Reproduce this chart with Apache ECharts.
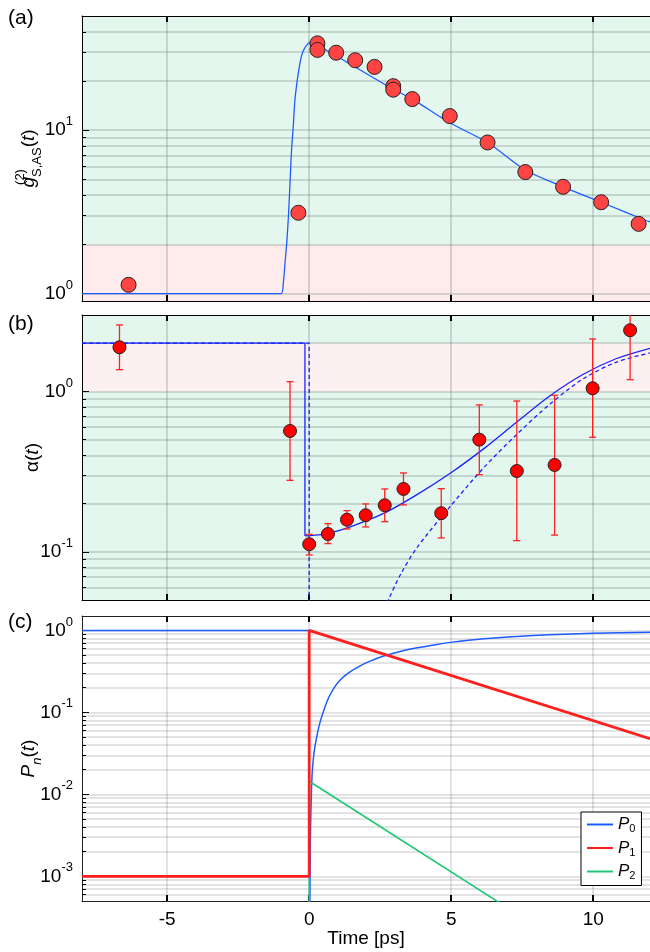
<!DOCTYPE html>
<html><head><meta charset="utf-8">
<script src="https://cdn.jsdelivr.net/npm/echarts@6/dist/echarts.min.js"></script>
<style>html,body{margin:0;padding:0;background:#fff}#c{width:650px;height:952px}</style>
</head><body><div id="c"></div>
<script>
// ---------- shared axis settings ----------
const xMin = -8, xMax = 12;
const xTicks = [-5, 0, 5, 10];

// ---------- panel (a): g2 ----------
const aRange = [0.9, 50];
const aMajor = [1, 10];
const aMinor = [2, 3, 4, 5, 6, 7, 8, 9, 20, 30, 40];
const aPtsX = [-6.36, -0.38, 0.29, 0.29, 0.95, 1.62, 2.30, 2.96, 2.96, 3.63, 4.95, 6.28, 7.61, 8.94, 10.28, 11.60];
const aPtsY = [1.13, 3.12, 34.0, 31.0, 29.8, 26.8, 24.4, 18.6, 17.7, 15.5, 12.2, 8.41, 5.54, 4.50, 3.62, 2.67];
const aFitX = [-8, -0.99, -0.91, -0.85, -0.79, -0.73, -0.675, -0.62, -0.56, -0.50, -0.38, -0.27, -0.15, 0.02, 0.2, 0.55, 0.96, 1.36, 2.96, 3.63, 4.95, 6.28, 7.61, 8.94, 10.28, 11.86, 12];
const aFitY = [1, 1, 1.17, 1.55, 2.05, 2.99, 4.78, 7.65, 10.6, 15.5, 22.5, 28.5, 32, 34.4, 34.1, 31.3, 28.5, 25.9, 17.8, 15.5, 11.1, 8.4, 5.7, 4.5, 3.62, 2.8, 2.75];

// ---------- panel (b): alpha ----------
const bRange = [0.05, 3];
const bMajor = [0.1, 1];
const bMinor = [0.06, 0.07, 0.08, 0.09, 0.2, 0.3, 0.4, 0.5, 0.6, 0.7, 0.8, 0.9, 2];
const bPtsX = [-6.68, -0.675, 0.0, 0.66, 1.33, 1.99, 2.66, 3.32, 4.65, 5.99, 7.31, 8.64, 9.98, 11.3];
const bPtsY = [1.887, 0.567, 0.1114, 0.129, 0.1585, 0.169, 0.195, 0.2464, 0.174, 0.5004, 0.319, 0.348, 1.047, 2.41];
const bErrHi = [2.60, 1.151, 0.1285, 0.1497, 0.1805, 0.1988, 0.2464, 0.31, 0.2475, 0.824, 0.872, 0.947, 2.126, 3.5];
const bErrLo = [1.368, 0.279, 0.0955, 0.1124, 0.1387, 0.1428, 0.154, 0.196, 0.122, 0.3027, 0.1173, 0.127, 0.518, 1.185];
const bSolidStepX = [-8, -0.15, -0.15];
const bSolidStepY = [2, 2, 0.1255];
const bSolidX = [-0.15, 0.43, 0.66, 1.4, 2.64, 3.81, 4.98, 6.15, 7.31, 8.48, 9.65, 10.8, 12];
const bSolidY = [0.1255, 0.128, 0.130, 0.142, 0.174, 0.228, 0.31, 0.44, 0.645, 0.94, 1.28, 1.60, 1.86];
const bDashStepX = [-8, 0, 0];
const bDashStepY = [2, 2, 0.001];
const bDashX = [2.5, 2.8, 3.24, 3.81, 4.98, 6.15, 7.31, 8.48, 9.65, 10.8, 12];
const bDashY = [0.036, 0.0505, 0.0735, 0.107, 0.193, 0.335, 0.54, 0.835, 1.2, 1.52, 1.74];

// ---------- panel (c): P_n ----------
const cRange = [5e-4, 1.5];
const cMajor = [0.001, 0.01, 0.1, 1];
const cMinor = [6e-4, 7e-4, 8e-4, 9e-4, 0.002, 0.003, 0.004, 0.005, 0.006, 0.007, 0.008, 0.009,
  0.02, 0.03, 0.04, 0.05, 0.06, 0.07, 0.08, 0.09, 0.2, 0.3, 0.4, 0.5, 0.6, 0.7, 0.8, 0.9];
const cP0StepX = [-8, 0, 0];
const cP0StepY = [1, 1, 0.001];
const cP0X = [0.02, 0.04, 0.06, 0.1, 0.15, 0.2, 0.3, 0.4, 0.55, 0.7, 0.9, 1.1, 1.36, 1.7, 2.06, 2.65, 3.3, 3.81, 4.5, 4.98, 6.15, 7.31, 8.48, 10, 12];
const cP0Y = [3e-4, 0.0025, 0.006, 0.017, 0.028, 0.038, 0.058, 0.08, 0.115, 0.155, 0.205, 0.25, 0.30, 0.355, 0.41, 0.49, 0.565, 0.615, 0.675, 0.715, 0.79, 0.845, 0.885, 0.925, 0.952];
const cP1X = [-8, 0, 0, 12];
const cP1Y = [0.001, 0.001, 1, 0.0477];
const cP2X = [0, 0, 12];
const cP2Y = [1e-6, 0.01445, 3.2e-5];
const legendNames = ['P0', 'P1', 'P2'];

// ---------- styling ----------
const FONT = '"Liberation Sans", Arial, Helvetica, sans-serif';
const GREEN_BG = '#e3f7ee', PINK_BG = '#fdeceb', PINK_BG_B = '#fdf0f0';
const BLUE = '#1f5cff', BLUE_B = '#1a22ff', RED = '#ff1f1f', GREEN = '#1fc874';
const zip = (xs, ys) => xs.map((x, i) => [x, ys[i]]);

const nameRich = {
  i: {fontSize: 19, fontStyle: 'italic', fontFamily: FONT, color: '#000', lineHeight: 30},
  n: {fontSize: 19, fontFamily: FONT, color: '#000', lineHeight: 30},
  sup: {fontSize: 13, fontFamily: FONT, color: '#000', lineHeight: 13, verticalAlign: 'top', width: 0},
  sub: {fontSize: 13, fontFamily: FONT, color: '#000', lineHeight: 13, verticalAlign: 'bottom'},
  subi: {fontSize: 13, fontStyle: 'italic', fontFamily: FONT, color: '#000', lineHeight: 13, verticalAlign: 'bottom'}
};
const labelRich = {
  b: {fontSize: 19, fontFamily: FONT, color: '#000', lineHeight: 30},
  s: {fontSize: 13, fontFamily: FONT, color: '#000', lineHeight: 13, verticalAlign: 'top'}
};
const expFmt = v => '{b|10}{s|' + Math.round(Math.log10(v)) + '}';

const panels = [
  {top: 16, range: aRange, major: aMajor, minor: aMinor, name: '{i|g}{sup|(2)}{sub|S,AS}{n|(}{i|t}{n|)}', gap: 38, grid: 'rgba(100,115,108,0.33)', axis: '#000'},
  {top: 315, range: bRange, major: bMajor, minor: bMinor, name: '{n|α(}{i|t}{n|)}', gap: 34, grid: 'rgba(100,115,108,0.33)', axis: '#000'},
  {top: 616, range: cRange, major: cMajor, minor: cMinor, name: '{i|P}{subi|n}{n|(}{i|t}{n|)}', gap: 38, grid: 'rgba(0,0,0,0.15)', axis: '#222'}
];

const grids = [], xAxes = [], yAxes = [];
panels.forEach((p, g) => {
  grids.push({left: 82, right: -4, top: p.top, height: 285});
  xAxes.push({
    type: 'value', gridIndex: g, position: 'bottom', min: xMin, max: xMax,
    axisLine: {show: true, onZero: false, lineStyle: {color: p.axis, width: 1}},
    axisTick: {show: true, inside: true, length: 6, customValues: xTicks, lineStyle: {color: '#000', width: 2}},
    axisLabel: {show: g === 2, customValues: xTicks, margin: 9, fontSize: 19, color: '#000', fontFamily: FONT},
    splitLine: {show: true, lineStyle: {color: p.grid, width: 1.5}},
    name: g === 2 ? 'Time [ps]' : '', nameLocation: 'middle', nameGap: 28, nameMoveOverlap: false,
    nameTextStyle: {fontSize: 19, color: '#000', fontFamily: FONT}
  });
  xAxes.push({
    type: 'value', gridIndex: g, position: 'top', min: xMin, max: xMax,
    axisLine: {show: true, onZero: false, lineStyle: {color: p.axis, width: 1}},
    axisTick: {show: true, inside: true, length: 6, customValues: xTicks, lineStyle: {color: '#000', width: 2}},
    axisLabel: {show: false}, splitLine: {show: false}
  });
  yAxes.push({
    type: 'log', logBase: 10, gridIndex: g, position: 'left', min: p.range[0], max: p.range[1],
    axisLine: {show: true, onZero: false, lineStyle: {color: p.axis, width: 1}},
    axisTick: {show: true, inside: true, length: 7, customValues: p.major, lineStyle: {color: '#000', width: 1}},
    axisLabel: {show: true, customValues: p.major, margin: 9, formatter: expFmt, rich: labelRich},
    splitLine: {show: true, lineStyle: {color: p.grid, width: 1.5}},
    name: p.name, nameLocation: 'middle', nameGap: p.gap, nameMoveOverlap: false,
    nameTextStyle: {rich: nameRich, fontSize: 19, fontFamily: FONT, color: '#000'}
  });
  yAxes.push({
    type: 'log', logBase: 10, gridIndex: g, position: 'left', offset: 0, min: p.range[0], max: p.range[1],
    axisLine: {show: false, onZero: false},
    axisTick: {show: true, inside: true, length: 4, customValues: p.minor, lineStyle: {color: '#000', width: 1}},
    axisLabel: {show: false},
    splitLine: {show: true, lineStyle: {color: p.grid, width: 1.5}}
  });
});

function bg(g, bands) {
  return {
    type: 'line', xAxisIndex: 2 * g, yAxisIndex: 2 * g, data: [], z: -10, zlevel: 0, silent: true,
    markArea: {silent: true, z: -10, data: bands.map(b => [{yAxis: b[0], itemStyle: {color: b[2]}}, {yAxis: b[1]}])}
  };
}
function line(g, data, color, width, extra) {
  return Object.assign({
    type: 'line', xAxisIndex: 2 * g, yAxisIndex: 2 * g, data: data, symbol: 'none', showSymbol: false,
    clip: true, lineStyle: {color: color, width: width}, itemStyle: {color: color}, z: 2, silent: true
  }, extra || {});
}

const series = [
  bg(0, [[aRange[0], 2, PINK_BG], [2, aRange[1], GREEN_BG]]),
  line(0, zip(aFitX, aFitY), BLUE, 1.3, {smooth: 0.3}),
  {type: 'scatter', xAxisIndex: 0, yAxisIndex: 0, data: zip(aPtsX, aPtsY), symbolSize: 15, z: 5,
   itemStyle: {color: '#ff4444', borderColor: '#222', borderWidth: 1, opacity: 1}},

  bg(1, [[bRange[0], 1, GREEN_BG], [1, 2, PINK_BG_B], [2, bRange[1], GREEN_BG]]),
  line(1, zip(bSolidStepX, bSolidStepY), BLUE_B, 1.3),
  line(1, zip(bSolidX, bSolidY), BLUE_B, 1.3, {smooth: 0.3}),
  line(1, zip(bDashStepX, bDashStepY), BLUE_B, 1.3, {lineStyle: {color: BLUE_B, width: 1.3, type: [4, 3]}}),
  line(1, zip(bDashX, bDashY), BLUE_B, 1.3, {smooth: 0.3, lineStyle: {color: BLUE_B, width: 1.3, type: [4, 3]}}),
  {type: 'custom', xAxisIndex: 2, yAxisIndex: 2, clip: true, z: 4, silent: true,
   data: bPtsX.map((x, i) => [x, bErrLo[i], bErrHi[i]]),
   encode: {x: 0, y: [1, 2]},
   renderItem: function (params, api) {
     const lo = api.coord([api.value(0), api.value(1)]);
     const hi = api.coord([api.value(0), api.value(2)]);
     const cw = 3.5, st = {stroke: '#ff2020', lineWidth: 1.3};
     return {type: 'group', children: [
       {type: 'line', shape: {x1: lo[0], y1: lo[1], x2: hi[0], y2: hi[1]}, style: st},
       {type: 'line', shape: {x1: lo[0] - cw, y1: lo[1], x2: lo[0] + cw, y2: lo[1]}, style: st},
       {type: 'line', shape: {x1: hi[0] - cw, y1: hi[1], x2: hi[0] + cw, y2: hi[1]}, style: st}
     ]};
   }},
  {type: 'scatter', xAxisIndex: 2, yAxisIndex: 2, data: zip(bPtsX, bPtsY), symbolSize: 13, z: 5,
   itemStyle: {color: '#ff0000', borderColor: '#222', borderWidth: 1, opacity: 1}},

  line(2, zip(cP0StepX, cP0StepY), BLUE, 1.5, {name: legendNames[0]}),
  line(2, zip(cP0X, cP0Y), BLUE, 1.5, {name: legendNames[0], smooth: 0.2}),
  line(2, zip(cP2X, cP2Y), GREEN, 1.6, {name: legendNames[2], z: 3}),
  line(2, zip(cP1X, cP1Y), RED, 2.8, {name: legendNames[1], z: 4})
];

const chart = echarts.init(document.getElementById('c'), null, {renderer: 'canvas'});
chart.setOption({
  animation: false,
  backgroundColor: '#fff',
  textStyle: {fontFamily: FONT},
  grid: grids,
  xAxis: xAxes,
  yAxis: yAxes,
  series: series,
  legend: {
    data: legendNames, selectedMode: false, orient: 'vertical',
    left: 581, top: 812, itemWidth: 26, itemHeight: 14, itemGap: 5,
    padding: [4, 6, 4, 5], borderColor: '#000', borderWidth: 1, borderRadius: 0, backgroundColor: '#fff',
    lineStyle: {width: 2},
    itemStyle: {opacity: 0},
    formatter: n => '{i|P}{s|' + n.slice(1) + '}',
    textStyle: {color: '#000', rich: {
      i: {fontSize: 17, fontStyle: 'italic', fontFamily: FONT, color: '#000', lineHeight: 20},
      s: {fontSize: 11, fontFamily: FONT, color: '#000', lineHeight: 11, verticalAlign: 'bottom'}
    }}
  },
  graphic: [
    {type: 'text', left: 8, top: 8, style: {text: '(a)', fontSize: 21, fontFamily: FONT, fill: '#000'}},
    {type: 'text', left: 8, top: 314, style: {text: '(b)', fontSize: 21, fontFamily: FONT, fill: '#000'}},
    {type: 'text', left: 8, top: 612, style: {text: '(c)', fontSize: 21, fontFamily: FONT, fill: '#000'}}
  ]
});
</script></body></html>
